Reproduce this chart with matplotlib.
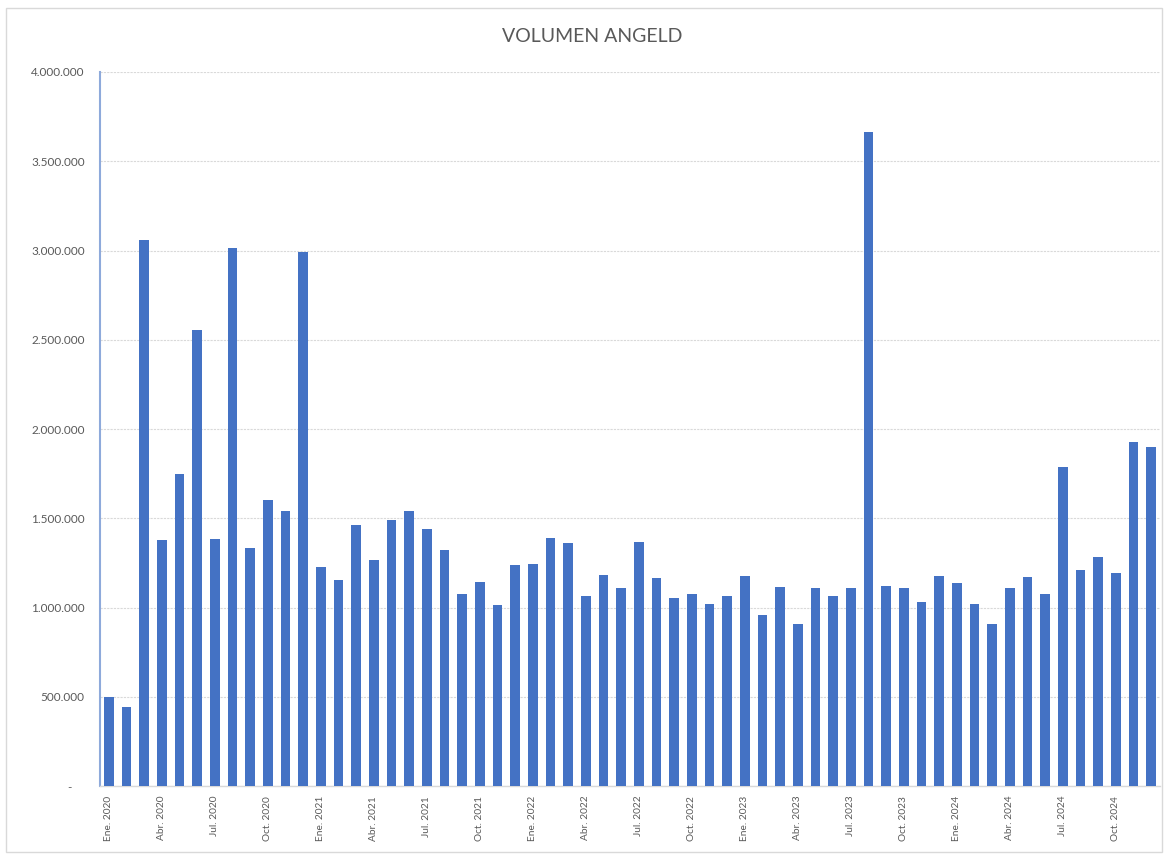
import numpy as np
import matplotlib
matplotlib.use("Agg")
from matplotlib import pyplot as plt
from matplotlib.patches import Rectangle


months = ['Ene.', 'Feb.', 'Mar.', 'Abr.', 'May.', 'Jun.',
          'Jul.', 'Ago.', 'Sep.', 'Oct.', 'Nov.', 'Dic.']
years = [2020, 2021, 2022, 2023, 2024]

values_2020 = [500000, 441000, 3060000, 1376000, 1748000, 2552000,
               1383000, 3015000, 1333000, 1600000, 1540000, 2994000]
values_2021 = [1228000, 1155000, 1465000, 1269000, 1493000, 1538000,
               1441000, 1323000, 1075000, 1144000, 1013000, 1241000]
values_2022 = [1243000, 1389000, 1361000, 1062000, 1181000, 1108000,
               1366000, 1163000, 1056000, 1073000, 1019000, 1067000]
values_2023 = [1179000, 957000, 1116000, 910000, 1108000, 1064000,
               1110000, 3666000, 1120000, 1110000, 1030000, 1179000]
values_2024 = [1135000, 1017000, 910000, 1107000, 1170000, 1073000,
               1787000, 1209000, 1284000, 1193000, 1927000, 1899000]

yticks = [0, 500000, 1000000, 1500000, 2000000, 2500000, 3000000, 3500000, 4000000]

values = values_2020 + values_2021 + values_2022 + values_2023 + values_2024
labels = [m + ' ' + str(y) for y in years for m in months]

plt.rcParams['font.family'] = ['Lato', 'DejaVu Sans']

fig = plt.figure(figsize=(11.69, 8.57), dpi=100)
fig.patches.append(Rectangle((0.005, 0.006), 0.989, 0.985, transform=fig.transFigure,
                             fill=False, edgecolor='#d9d9d9', linewidth=1))

ax = fig.add_axes([0.0855, 0.0828, 0.9068, 0.8332])
x = np.arange(len(values))
ax.bar(x, values, width=0.55, color='#4472c4', zorder=3)

ax.set_xlim(-0.5, len(values) - 0.5)
ax.set_ylim(0, 4000000)
ax.set_yticks(yticks)
ax.set_yticklabels(['-    ' if v == 0 else f'{v:,}'.replace(',', '.') for v in yticks],
                   fontsize=8.5, color='#595959')
ax.set_xticks(x[::3])
ax.set_xticklabels(labels[::3], rotation=90, fontsize=7.3, color='#595959')
ax.tick_params(axis='y', length=0, pad=11)
ax.tick_params(axis='x', length=0, pad=7)

ax.grid(axis='y', color='#d9d9d9', linestyle=(0, (2, 1)), linewidth=0.8, zorder=0)
for s in ['top', 'right']:
    ax.spines[s].set_visible(False)
ax.spines['left'].set_color('#8eaadb')
ax.spines['left'].set_linewidth(1.5)
ax.spines['bottom'].set_color('#d9d9d9')
ax.spines['bottom'].set_linewidth(1)

fig.text(0.507, 0.957, 'VOLUMEN ANGELD', ha='center', va='center',
         fontsize=14, color='#595959')

plt.savefig('out.png', dpi=100)
